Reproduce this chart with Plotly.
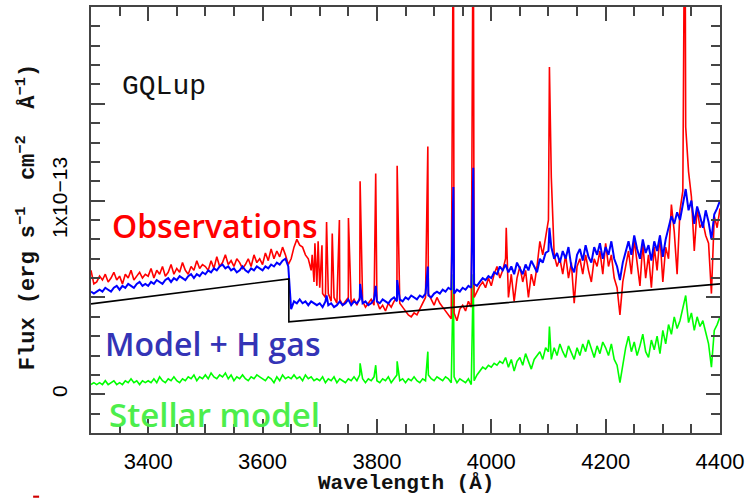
import numpy as np
import plotly.graph_objects as go

# Flux in units of 1e-13 erg s^-1 cm^-2 A^-1, sampled every 5 A from 3300 to 4400 A
WAVE_START, WAVE_STOP, WAVE_STEP = 3300, 4400, 5

obs_flux = (
    [0.64, 0.57, 0.58, 0.61, 0.59, 0.62, 0.58, 0.60, 0.63, 0.59, 0.61, 0.57, 0.62, 0.60, 0.64, 0.59, 0.61, 0.63, 0.60, 0.62]
    + [0.61, 0.65, 0.60, 0.64, 0.62, 0.66, 0.61, 0.63, 0.67, 0.62, 0.65, 0.63, 0.68, 0.64, 0.62, 0.66, 0.64, 0.69, 0.65, 0.67]
    + [0.66, 0.64, 0.69, 0.65, 0.71, 0.66, 0.68, 0.72, 0.67, 0.69, 0.66, 0.70, 0.68, 0.65, 0.67, 0.70, 0.66, 0.72, 0.68, 0.70]
    + [0.67, 0.73, 0.69, 0.75, 0.70, 0.74, 0.71, 0.76, 0.72, 0.67, 0.70, 0.76, 0.80, 0.77, 0.76, 0.72, 0.70, 0.64, 0.58, 0.56]
    + [0.55, 0.52, 0.50, 0.52, 0.48, 0.50, 0.47, 0.49, 0.46, 0.48, 0.50, 0.47, 0.49, 0.46, 0.50, 0.48, 0.45, 0.47, 0.49, 0.46]
    + [0.48, 0.44, 0.46, 0.43, 0.47, 0.45, 0.48, 0.50, 0.47, 0.45, 0.43, 0.41, 0.40, 0.42, 0.41, 0.44, 0.47, 0.50, 0.52, 0.49]
    + [0.46, 0.50, 0.47, 0.45, 0.43, 0.41, 0.39, 0.42, 0.38, 0.44, 0.46, 0.43, 0.48, 0.45, 0.50, 0.53, 0.56, 0.58, 0.55, 0.60]
    + [0.56, 0.62, 0.66, 0.60, 0.64, 0.70, 0.50, 0.62, 0.48, 0.60, 0.66, 0.58, 0.64, 0.50, 0.62, 0.56, 0.66, 0.79, 0.72, 0.82]
    + [0.90, 1.12, 0.72, 0.66, 0.70, 0.62, 0.72, 0.60, 0.68, 0.47, 0.66, 0.70, 0.62, 0.72, 0.64, 0.58, 0.70, 0.66, 0.74, 0.62]
    + [0.78, 0.66, 0.72, 0.60, 0.55, 0.41, 0.58, 0.66, 0.74, 0.62, 0.80, 0.68, 0.56, 0.78, 0.60, 0.72, 0.55, 0.76, 0.64, 0.82]
    + [0.58, 0.76, 0.70, 0.98, 0.84, 0.62, 0.95, 1.05, 1.38, 1.15, 1.02, 0.74, 0.96, 0.86, 0.89, 0.82, 0.78, 0.52, 0.92, 0.86]
    + [0.96]
)

model_flux = (
    [0.53, 0.52, 0.53, 0.54, 0.53, 0.55, 0.54, 0.53, 0.55, 0.56, 0.54, 0.56, 0.55, 0.57, 0.56, 0.55, 0.57, 0.58, 0.56, 0.57]
    + [0.56, 0.58, 0.57, 0.59, 0.58, 0.57, 0.59, 0.60, 0.58, 0.60, 0.59, 0.61, 0.60, 0.59, 0.61, 0.62, 0.60, 0.62, 0.61, 0.63]
    + [0.62, 0.64, 0.63, 0.65, 0.64, 0.66, 0.67, 0.65, 0.66, 0.64, 0.65, 0.63, 0.64, 0.66, 0.64, 0.63, 0.65, 0.64, 0.66, 0.65]
    + [0.64, 0.66, 0.65, 0.67, 0.66, 0.68, 0.67, 0.69, 0.70, 0.66, 0.44, 0.48, 0.47, 0.49, 0.47, 0.48, 0.46, 0.48, 0.47, 0.46]
    + [0.47, 0.45, 0.48, 0.46, 0.47, 0.45, 0.46, 0.48, 0.46, 0.47, 0.49, 0.46, 0.48, 0.47, 0.49, 0.47, 0.48, 0.46, 0.47, 0.49]
    + [0.48, 0.47, 0.49, 0.48, 0.47, 0.49, 0.50, 0.48, 0.49, 0.48, 0.50, 0.49, 0.51, 0.50, 0.49, 0.51, 0.50, 0.52, 0.51, 0.50]
    + [0.52, 0.53, 0.52, 0.54, 0.53, 0.55, 0.54, 0.52, 0.54, 0.53, 0.55, 0.54, 0.56, 0.55, 0.57, 0.56, 0.58, 0.60, 0.59, 0.61]
    + [0.60, 0.63, 0.62, 0.66, 0.64, 0.67, 0.63, 0.66, 0.62, 0.68, 0.65, 0.62, 0.67, 0.64, 0.69, 0.66, 0.63, 0.70, 0.68, 0.73]
    + [0.74, 0.76, 0.70, 0.73, 0.68, 0.74, 0.70, 0.76, 0.66, 0.63, 0.72, 0.75, 0.69, 0.77, 0.71, 0.68, 0.76, 0.72, 0.78, 0.70]
    + [0.76, 0.72, 0.79, 0.70, 0.66, 0.59, 0.68, 0.74, 0.79, 0.72, 0.82, 0.75, 0.70, 0.80, 0.73, 0.77, 0.69, 0.79, 0.74, 0.82]
    + [0.71, 0.80, 0.86, 0.92, 0.88, 0.94, 0.90, 0.98, 1.06, 0.95, 1.00, 0.88, 0.97, 0.92, 0.86, 0.95, 0.89, 0.80, 0.93, 0.96]
    + [1.00]
)

stellar_flux = (
    [0.05, 0.06, 0.05, 0.06, 0.05, 0.07, 0.05, 0.06, 0.07, 0.05, 0.06, 0.05, 0.07, 0.06, 0.08, 0.06, 0.07, 0.05, 0.07, 0.06]
    + [0.07, 0.06, 0.08, 0.06, 0.09, 0.07, 0.06, 0.08, 0.07, 0.09, 0.07, 0.06, 0.08, 0.07, 0.09, 0.08, 0.10, 0.07, 0.09, 0.08]
    + [0.10, 0.08, 0.11, 0.09, 0.08, 0.10, 0.09, 0.11, 0.08, 0.10, 0.07, 0.09, 0.08, 0.10, 0.08, 0.07, 0.09, 0.08, 0.10, 0.09]
    + [0.08, 0.07, 0.09, 0.08, 0.06, 0.09, 0.07, 0.10, 0.08, 0.09, 0.08, 0.10, 0.08, 0.09, 0.07, 0.10, 0.08, 0.09, 0.07, 0.08]
    + [0.07, 0.09, 0.06, 0.08, 0.07, 0.09, 0.06, 0.08, 0.07, 0.06, 0.08, 0.07, 0.09, 0.07, 0.10, 0.08, 0.06, 0.08, 0.07, 0.09]
    + [0.07, 0.06, 0.08, 0.07, 0.09, 0.06, 0.08, 0.10, 0.07, 0.08, 0.06, 0.08, 0.07, 0.09, 0.07, 0.06, 0.08, 0.07, 0.10, 0.08]
    + [0.07, 0.09, 0.08, 0.07, 0.09, 0.08, 0.06, 0.09, 0.06, 0.08, 0.07, 0.06, 0.08, 0.05, 0.07, 0.10, 0.12, 0.14, 0.13, 0.15]
    + [0.14, 0.16, 0.15, 0.17, 0.16, 0.19, 0.14, 0.18, 0.12, 0.17, 0.19, 0.15, 0.21, 0.17, 0.13, 0.18, 0.20, 0.22, 0.18, 0.24]
    + [0.22, 0.18, 0.24, 0.20, 0.26, 0.22, 0.19, 0.25, 0.21, 0.18, 0.24, 0.20, 0.26, 0.22, 0.28, 0.23, 0.19, 0.25, 0.21, 0.27]
    + [0.24, 0.20, 0.26, 0.18, 0.15, 0.06, 0.16, 0.24, 0.30, 0.22, 0.27, 0.20, 0.25, 0.31, 0.22, 0.19, 0.28, 0.23, 0.30, 0.21]
    + [0.33, 0.26, 0.36, 0.31, 0.40, 0.34, 0.38, 0.44, 0.51, 0.37, 0.42, 0.33, 0.40, 0.35, 0.38, 0.32, 0.26, 0.14, 0.33, 0.36]
    + [0.40]
)

# Narrow emission lines: Balmer series, Ca II K/H, He I 4026
obs_line_wave = [3686.8, 3691.6, 3697.2, 3703.9, 3711.97, 3721.9, 3734.4, 3750.2, 3770.6,
                 3797.9, 3835.4, 3889.05, 3933.7, 3968.5, 4026.2, 4101.7, 4338.6]
obs_line_flux = [0.72, 0.78, 0.79, 0.77, 0.89, 0.83, 0.90, 0.91, 1.10,
                 1.14, 1.18, 1.28, 2.60, 2.70, 0.86, 1.69, 2.80]

model_line_wave = [3711.97, 3770.6, 3797.9, 3835.4, 3889.05, 3933.7, 3968.5, 4101.7]
model_line_flux = [0.51, 0.57, 0.56, 0.59, 0.66, 1.07, 1.17, 0.86]

stellar_line_wave = [3770.6, 3797.9, 3835.4, 3889.05, 3933.7, 3968.5, 4101.7]
stellar_line_flux = [0.16, 0.15, 0.17, 0.22, 0.62, 0.62, 0.35]

# Continuum model with the Balmer jump at 3646 A
cont_wave = [3300, 3646, 3646, 4400]
cont_flux = [0.467, 0.596, 0.374, 0.570]

# Y tick layout: labelled majors, unlabelled half-step majors, minor step
y_label_vals = [0, 1.0]
y_label_text = ["0", "1x10\u221213"]
y_half_vals = [0.5, 1.5, 2.0]

wave_grid = np.arange(WAVE_START, WAVE_STOP + WAVE_STEP, WAVE_STEP)


def with_lines(grid, flux, line_wave, line_flux):
    w = np.concatenate([grid, line_wave])
    f = np.concatenate([flux, line_flux])
    order = np.argsort(w, kind="stable")
    return w[order], f[order]


obs_w, obs_f = with_lines(wave_grid, obs_flux, obs_line_wave, obs_line_flux)
mod_w, mod_f = with_lines(wave_grid, model_flux, model_line_wave, model_line_flux)
st_w, st_f = with_lines(wave_grid, stellar_flux, stellar_line_wave, stellar_line_flux)

fig = go.Figure()
traces = [
    (st_w, st_f, "#00ff00", 1.6),
    (obs_w, obs_f, "#ff0000", 1.6),
    (mod_w, mod_f, "#0000ff", 2.0),
    (cont_wave, cont_flux, "#000000", 1.6),
]
for x, y, color, width in traces:
    fig.add_trace(go.Scatter(x=x, y=y, mode="lines",
                             line=dict(color=color, width=width),
                             showlegend=False, hoverinfo="skip"))
# empty trace that carries the overlay axis for the long unlabelled y ticks
fig.add_trace(go.Scatter(x=[], y=[], yaxis="y2", showlegend=False, hoverinfo="skip"))

AXIS_COLOR = "#444444"
tick_font = dict(family="Liberation Sans, Arial, sans-serif", size=22, color="#000000")

fig.update_xaxes(
    range=[3300, 4400], showgrid=False, zeroline=False,
    showline=True, linecolor=AXIS_COLOR, linewidth=1.5, mirror="ticks",
    ticks="inside", ticklen=14, tickwidth=1.5, tickcolor=AXIS_COLOR,
    tickmode="linear", tick0=3400, dtick=200, tickfont=tick_font,
    ticklabelstandoff=8,
    minor=dict(ticks="inside", ticklen=9, tickwidth=1.5, tickcolor=AXIS_COLOR,
               tickmode="linear", tick0=3300, dtick=50, showgrid=False),
)

fig.update_layout(
    yaxis=dict(
        range=[-0.2, 2.0], showgrid=False, zeroline=False,
        showline=True, linecolor=AXIS_COLOR, linewidth=1.5, mirror="ticks",
        ticks="inside", ticklen=14, tickwidth=1.5, tickcolor=AXIS_COLOR,
        tickmode="array", tickvals=y_label_vals, ticktext=y_label_text,
        tickangle=-90, tickfont=dict(tick_font, size=21), ticklabelstandoff=14,
        minor=dict(ticks="inside", ticklen=9, tickwidth=1.5, tickcolor=AXIS_COLOR,
                   tickmode="linear", tick0=0, dtick=0.1, showgrid=False),
    ),
    yaxis2=dict(
        overlaying="y", side="left", range=[-0.2, 2.0], showgrid=False,
        zeroline=False, showline=False, mirror="ticks",
        ticks="inside", ticklen=14, tickwidth=1.5, tickcolor=AXIS_COLOR,
        tickmode="array", tickvals=y_half_vals, showticklabels=False,
    ),
)

mono = "Liberation Mono, DejaVu Sans Mono, monospace"
label_font = "Open Sans, DejaVu Sans, sans-serif"
sp = "\u00a0"
y_title = ("<b>Flux (erg s<sup>\u22121</sup>" + sp + " cm<sup>\u22122</sup>" + sp
           + " Å<sup>\u22121</sup>)</b>")
annotations = [
    dict(text="<b>Wavelength (Å)</b>", x=0.5, y=-0.117, xanchor="center", yanchor="middle",
         font=dict(family=mono, size=21, color="#111111")),
    dict(text=y_title, x=-0.103, y=0.507, xanchor="center", yanchor="middle", textangle=-90,
         font=dict(family=mono, size=22, color="#111111")),
    dict(text="GQLup", x=0.046, y=0.813, xanchor="left", yanchor="middle",
         font=dict(family=mono, size=28, color="#111111")),
    dict(text="Observations", x=0.030, y=0.488, xanchor="left", yanchor="middle",
         font=dict(family=label_font, size=32, color="#ff0000", weight=600)),
    dict(text="Model + H gas", x=0.019, y=0.211, xanchor="left", yanchor="middle",
         font=dict(family=label_font, size=32, color="#3434b6", weight=600)),
    dict(text="Stellar model", x=0.026, y=0.044, xanchor="left", yanchor="middle",
         font=dict(family=label_font, size=33, color="#4cee4c", weight=600)),
]
for a in annotations:
    fig.add_annotation(xref="paper", yref="paper", showarrow=False, **a)

# small red mark below the axis
fig.add_shape(type="rect", xref="paper", yref="paper",
              x0=-0.092, x1=-0.0825, y0=-0.152, y1=-0.147,
              fillcolor="#d00000", line=dict(width=0))

fig.update_layout(
    width=749, height=499,
    margin=dict(l=91, r=28, t=5, b=66),
    plot_bgcolor="white", paper_bgcolor="white",
)

fig.write_html("out.html")
